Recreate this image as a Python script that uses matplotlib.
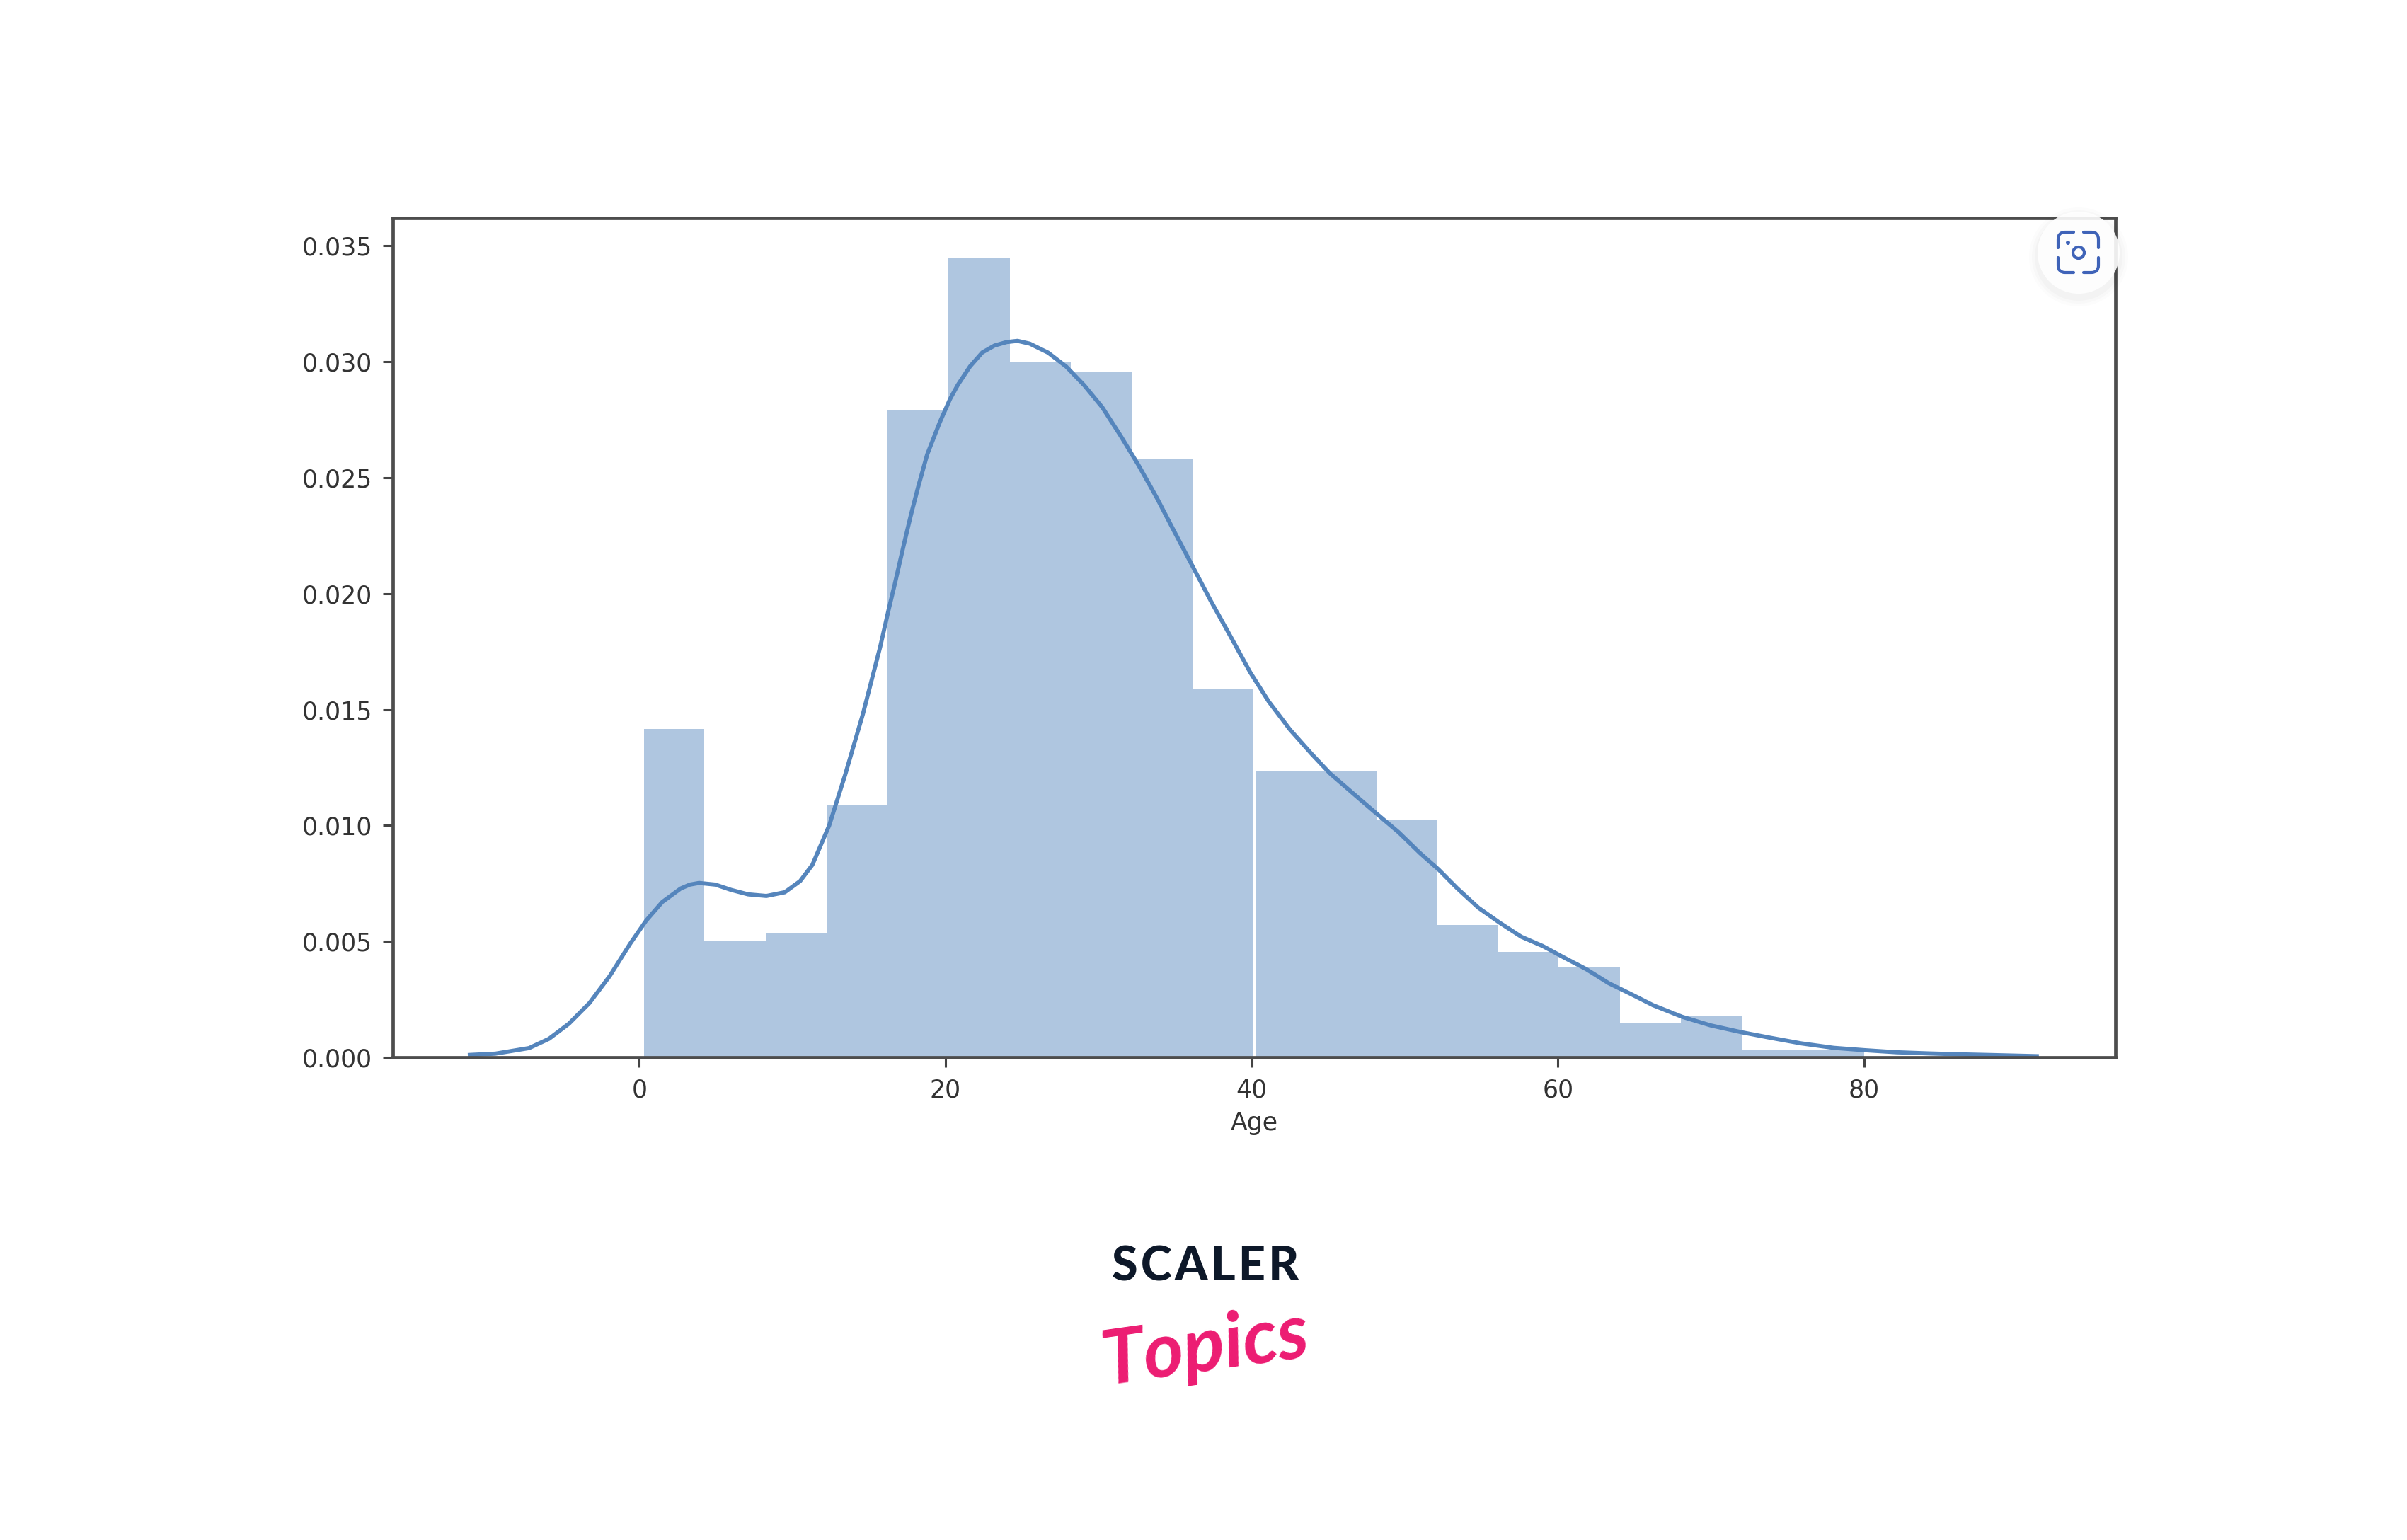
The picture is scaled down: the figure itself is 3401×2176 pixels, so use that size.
import matplotlib
matplotlib.use("Agg")
import matplotlib.pyplot as plt
from matplotlib.patches import Circle, PathPatch
from matplotlib.path import Path

bin_edges = [0.30, 4.26, 8.26, 12.24, 16.20, 20.20, 24.20, 28.16, 32.16, 36.14, 40.10,
             40.24, 44.20, 48.16, 52.14, 56.04, 60.04, 64.04, 68.04, 72.00, 76.00, 80.00]
bin_heights = [.01415, .0050, .00535, .0109, .0279, .0345, .0300, .02955, .0258, .0159, 0.0,
               .01235, .01235, .01025, .0057, .00455, .0039, .00145, .0018, .00035, .00035]

kde_x = [-11.2, -9.4, -7.2, -5.9, -4.6, -3.26, -1.94, -0.6, 0.45, 1.5, 2.7, 3.3, 3.9, 4.96, 6.0, 7.1,
         8.3, 9.5, 10.5, 11.3, 12.4, 13.45, 14.6, 15.73, 16.28, 16.68, 17.27, 17.74, 18.21, 18.8, 19.63, 20.3, 20.8,
         21.6, 22.4, 23.2, 24.0, 24.7, 25.5, 26.7, 27.88, 29.06, 30.24,
         31.42, 32.6, 33.78, 34.96, 36.14, 37.31, 38.49, 39.9, 41.1, 42.5, 43.9, 45.1, 46.76,
         48.17, 49.6, 51.0, 52.2, 53.4, 54.8, 56.2, 57.6, 59.0, 60.4, 61.85, 63.3, 64.7, 66.2,
         68.1, 69.95, 72.0, 73.9, 75.9, 78.0, 80.0, 82.1, 84.2, 86.3, 88.3, 91.4]
kde_y = [.0001, .00016, .0004, .0008, .00145, .00234, .0035, .0049, .0059, .0067, .00728, .00745, .00752,
         .00745, .00722, .00703, .00696, .00712, .0076, .0083, .0100, .0122, .0148, .0177,
         .0193, .0204, .0221, .0234, .0246, .0260, .0274, .0284, .0290, .0298, .0304, .0307, .03085, .0309, .03078,
         .03039, .02979, .02898, .02803, .02682, .02554, .02415, .02265, .02117, .0197, .0183,
         .0166, .01535, .01413, .01309, .01225, .0113, .0105, .0097, .0088, .0081, .0073, .00645,
         .0058, .0052, .0048, .0043, .0038, .0032, .00275, .00225, .00175, .00138, .00108, .00084,
         .0006, .00041, .00031, .00022, .00017, .00013, .0001, .00005]

x_ticks = [0, 20, 40, 60, 80]
y_ticks = [0.000, 0.005, 0.010, 0.015, 0.020, 0.025, 0.030, 0.035]
x_label = "Age"

W, H = 3401, 2176
fig = plt.figure(figsize=(W / 100, H / 100), dpi=100, facecolor="white")
plt.rcParams["font.family"] = ["DejaVu Sans"]

L, R, T, B = 555, 2989, 308, 1494
ax = fig.add_axes([L / W, 1 - B / H, (R - L) / W, (B - T) / H])

lefts = bin_edges[:-1]
widths = [b - a for a, b in zip(bin_edges[:-1], bin_edges[1:])]
ax.bar(lefts, bin_heights, width=widths, align="edge", color="#AFC6E0", linewidth=0)
ax.plot(kde_x, kde_y, color="#5585BC", linewidth=4.2, solid_joinstyle="round", solid_capstyle="butt")

ax.set_xlim(-16.1, 96.4)
ax.set_ylim(0, 0.0362)
ax.set_xticks(x_ticks)
ax.set_yticks(y_ticks)
ax.set_yticklabels([f"{v:.3f}" for v in y_ticks])
ax.tick_params(axis="both", length=10, width=2.2, color="#444444", labelcolor="#333333",
               labelsize=25, pad=11)
ax.set_xlabel(x_label, fontsize=25, color="#333333", labelpad=9)
for s in ax.spines.values():
    s.set_linewidth(3.4)
    s.set_color("#4D4D4D")

# overlay in pixel coordinates: camera badge and logo
ov = fig.add_axes([0, 0, 1, 1], zorder=5)
ov.set_xlim(0, W)
ov.set_ylim(H, 0)
ov.axis("off")
ov.patch.set_alpha(0)

cx, cy = 2937, 357
for r, a in [(70, .012), (66, .016), (62, .02)]:
    ov.add_patch(Circle((cx, cy + 6), r, fc="black", ec="none", alpha=a))
ov.add_patch(Circle((cx, cy), 58, fc="white", ec="none", alpha=0.9))

blue = "#3F63B8"
x0, x1, y0, y1 = 2908, 2965, 328, 385
xa, xb, ya, yb = 2930, 2944, 350, 364
rad = 10
corners = [
    [(xa, y0), (x0 + rad, y0), (x0, y0), (x0, y0 + rad), (x0, ya)],
    [(xb, y0), (x1 - rad, y0), (x1, y0), (x1, y0 + rad), (x1, ya)],
    [(xa, y1), (x0 + rad, y1), (x0, y1), (x0, y1 - rad), (x0, yb)],
    [(xb, y1), (x1 - rad, y1), (x1, y1), (x1, y1 - rad), (x1, yb)],
]
codes = [Path.MOVETO, Path.LINETO, Path.CURVE3, Path.CURVE3, Path.LINETO]
for c in corners:
    ov.add_patch(PathPatch(Path(c, codes), fc="none", ec=blue, lw=3.0, capstyle="round"))
ov.add_patch(Circle((cx, cy), 8, fc="none", ec=blue, lw=3.0))
ov.add_patch(Circle((2922, 343), 3, fc=blue, ec="none"))

hair = "\u200a"
ov.text(1703, 1810, hair.join("SCALER"), ha="center", va="baseline", fontsize=48,
        fontweight="black", color="#0D1829", family=["Lato", "DejaVu Sans"])
ov.text(1703, 1905, "Topics", ha="center", va="center", fontsize=78, style="italic",
        fontweight="bold", color="#EC1C72", family=["Lato", "DejaVu Sans"], rotation=8)

fig.savefig("out.png", dpi=100, facecolor="white")
